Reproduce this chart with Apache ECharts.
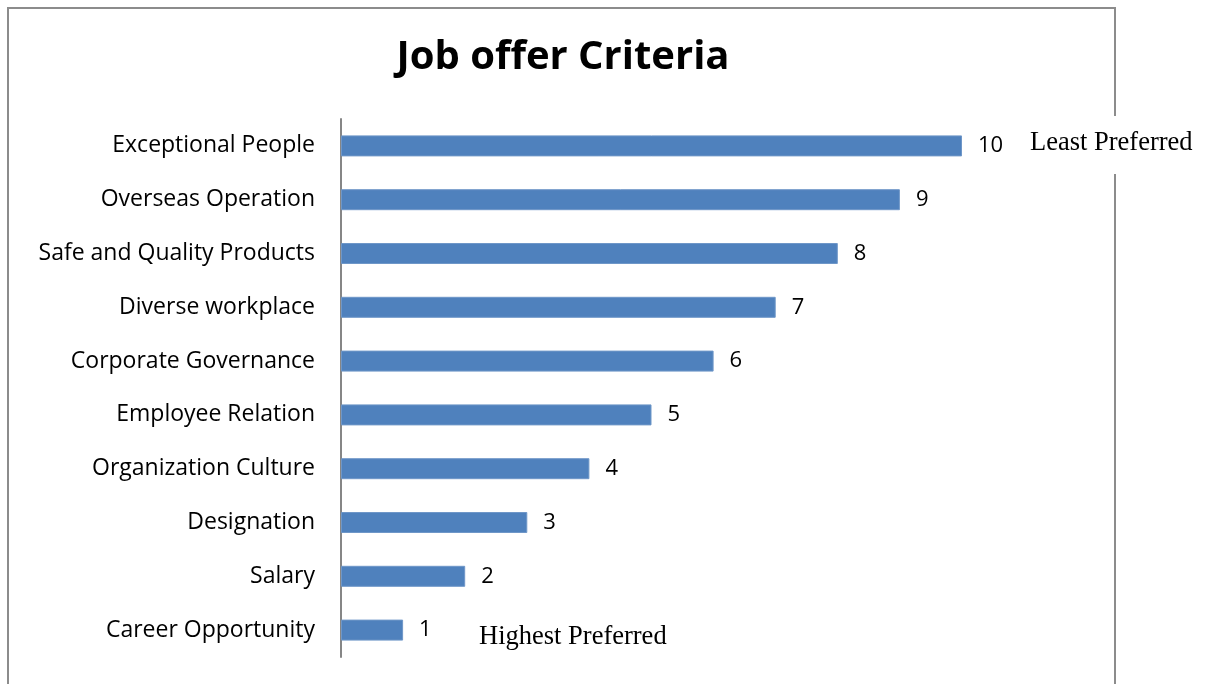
<!DOCTYPE html>
<html>
<head>
<meta charset="utf-8">
<script src="https://cdn.jsdelivr.net/npm/echarts@6/dist/echarts.min.js"></script>
<style>
  html, body { margin: 0; padding: 0; background: #fff; }
  #chart { width: 1208px; height: 684px; }
</style>
</head>
<body>
<div id="chart"></div>
<script>
// Criteria, listed bottom to top (rank 1 = highest preferred)
const categories = [
  'Career Opportunity',
  'Salary',
  'Designation',
  'Organization Culture',
  'Employee Relation',
  'Corporate Governance',
  'Diverse workplace',
  'Safe and Quality Products',
  'Overseas Operation',
  'Exceptional People'
];
const ranks = [1, 2, 3, 4, 5, 6, 7, 8, 9, 10];

const chart = echarts.init(document.getElementById('chart'));

chart.setOption({
  backgroundColor: '#ffffff',
  animation: false,
  title: {
    text: 'Job offer Criteria',
    left: 558,
    top: 33,
    textAlign: 'center',
    textStyle: {
      fontFamily: 'Open Sans',
      fontWeight: 'bold',
      fontSize: 40,
      color: '#000'
    }
  },
  grid: { left: 341, top: 119, width: 621, height: 538, containLabel: false },
  xAxis: {
    type: 'value',
    min: 0,
    max: 10,
    show: false
  },
  yAxis: {
    type: 'category',
    data: categories,
    axisLine: { show: true, lineStyle: { color: '#868686', width: 2 } },
    axisTick: { show: false },
    axisLabel: {
      margin: 26,
      fontFamily: 'Open Sans',
      fontSize: 23,
      padding: [6, 0, 0, 0],
      color: '#000'
    },
    splitLine: { show: false }
  },
  series: [{
    type: 'bar',
    data: ranks,
    barWidth: 21,
    itemStyle: { color: '#4f81bd', borderColor: '#6f97c8', borderWidth: 1 },
    label: {
      show: true,
      position: 'right',
      distance: 16,
      fontFamily: 'Open Sans',
      fontSize: 22,
      padding: [4, 0, 0, 0],
      color: '#000'
    }
  }],
  graphic: [
    {
      type: 'rect',
      shape: { x: 8, y: 8, width: 1107, height: 700 },
      style: { fill: 'none', stroke: '#8c8c8c', lineWidth: 2 },
      z: 0
    },
    {
      type: 'rect',
      shape: { x: 1108, y: 116, width: 14, height: 58 },
      style: { fill: '#ffffff' },
      z: 1
    },
    {
      type: 'text',
      left: 1030,
      top: 130,
      style: {
        text: 'Least Preferred',
        font: '26.5px "Liberation Serif"',
        fill: '#000'
      },
      z: 2
    },
    {
      type: 'text',
      left: 479,
      top: 624,
      style: {
        text: 'Highest Preferred',
        font: '26.5px "Liberation Serif"',
        fill: '#000'
      },
      z: 2
    }
  ]
});
</script>
</body>
</html>
